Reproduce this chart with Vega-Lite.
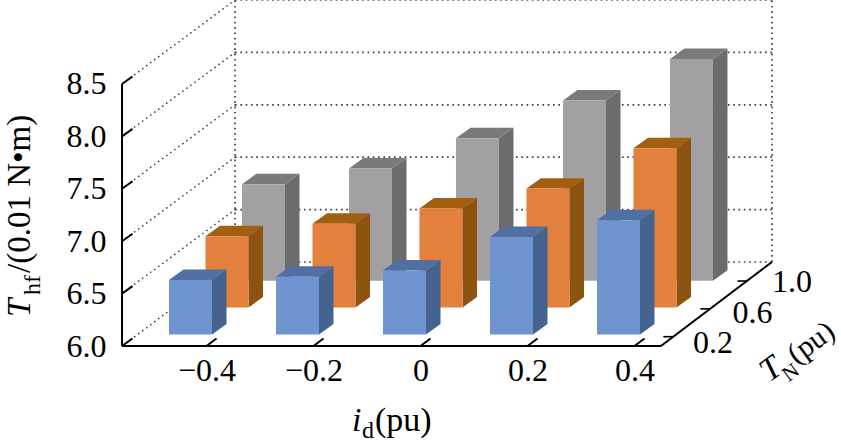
{"$schema":"https://vega.github.io/schema/vega-lite/v6.json","width":719,"height":346,"autosize":{"type":"none"},"padding":{"left":122,"top":0,"right":0,"bottom":96},"background":"white","config":{"view":{"stroke":null},"text":{"font":"Liberation Serif","color":"black"}},
"datasets":{"bars":[{"id":-0.4,"tn":0.2,"t":6.52},{"id":-0.2,"tn":0.2,"t":6.55},{"id":0,"tn":0.2,"t":6.61},{"id":0.2,"tn":0.2,"t":6.93},{"id":0.4,"tn":0.2,"t":7.09},{"id":-0.4,"tn":0.6,"t":6.68},{"id":-0.2,"tn":0.6,"t":6.8},{"id":0,"tn":0.6,"t":6.945},{"id":0.2,"tn":0.6,"t":7.135},{"id":0.4,"tn":0.6,"t":7.52},{"id":-0.4,"tn":1.0,"t":6.92},{"id":-0.2,"tn":1.0,"t":7.07},{"id":0,"tn":1.0,"t":7.36},{"id":0.2,"tn":1.0,"t":7.72},{"id":0.4,"tn":1.0,"t":8.115}],"levels":[{"t":6.0},{"t":6.5},{"t":7.0},{"t":7.5},{"t":8.0},{"t":8.5}],"ids":[{"id":-0.4},{"id":-0.2},{"id":0},{"id":0.2},{"id":0.4}],"depths":[{"tn":0.2,"label":"0.2"},{"tn":0.6,"label":"0.6"},{"tn":1.0,"label":"1.0"}]},
"layer":[
{"data":{"name":"ids"},"mark":{"type":"rule","stroke":"black","strokeWidth":2},"transform":[{"calculate":"datum.id+0.0187","as":"x2"}],"encoding":{"x":{"field":"id","type":"quantitative","scale":{"domain":[-0.55794,0.78598],"nice":false,"zero":false},"axis":{"values":[-0.4,-0.2,0,0.2,0.4],"title":null,"domain":false,"ticks":false,"grid":false,"labelFont":"Liberation Serif","labelFontSize":32,"labelColor":"black","labelPadding":9,"labelExpr":"datum.value==0?'0':format(datum.value,'.1f')","labelFlush":false,"labelOverlap":false}},"x2":{"field":"x2"},"y":{"datum":6,"type":"quantitative","scale":{"domain":[6,9.3015],"nice":false,"zero":false},"axis":{"values":[6,6.5,7,7.5,8,8.5],"format":".1f","title":null,"domain":false,"ticks":false,"grid":false,"labelFont":"Liberation Serif","labelFontSize":32,"labelColor":"black","labelPadding":16,"labelFlush":false,"labelOverlap":false}},"y2":{"datum":6.0716}}},
{"data":{"name":"levels"},"transform":[{"calculate":"datum.t+0.8015","as":"yb"}],"mark":{"type":"rule","stroke":"#444","strokeWidth":1.7,"strokeDash":[1.7,3.6]},"encoding":{"x":{"datum":-0.3467,"type":"quantitative"},"x2":{"datum":0.657},"y":{"field":"yb","type":"quantitative"}}},
{"data":{"name":"levels"},"transform":[{"calculate":"datum.t+0.8015","as":"yb"}],"mark":{"type":"rule","stroke":"#444","strokeWidth":1.5,"strokeDash":[1.6,3.4]},"encoding":{"x":{"datum":-0.5579,"type":"quantitative"},"x2":{"datum":-0.3467},"y":{"field":"t","type":"quantitative"},"y2":{"field":"yb"}}},
{"data":{"values":[{"wall":"back left"}]},"mark":{"type":"rule","stroke":"#444","strokeWidth":1.7,"strokeDash":[1.7,3.6]},"encoding":{"x":{"datum":-0.3467,"type":"quantitative"},"y":{"datum":6.8015,"type":"quantitative"},"y2":{"datum":9.3015}}},
{"data":{"values":[{"wall":"back right"}]},"mark":{"type":"rule","stroke":"#444","strokeWidth":1.7,"strokeDash":[1.7,3.6]},"encoding":{"x":{"datum":0.657,"type":"quantitative"},"y":{"datum":6.8015,"type":"quantitative"},"y2":{"datum":9.3015}}},
{"data":{"name":"levels"},"transform":[{"calculate":"datum.t+0.0716","as":"y2"}],"mark":{"type":"rule","stroke":"black","strokeWidth":2},"encoding":{"x":{"datum":-0.5579,"type":"quantitative"},"x2":{"datum":-0.5383},"y":{"field":"t","type":"quantitative"},"y2":{"field":"y2"}}},
{"data":{"values":[{"axis":"value"}]},"mark":{"type":"rule","stroke":"black","strokeWidth":2},"encoding":{"x":{"datum":-0.5579,"type":"quantitative"},"y":{"datum":6,"type":"quantitative"},"y2":{"datum":8.5}}},
{"data":{"values":[{"axis":"id"}]},"mark":{"type":"rule","stroke":"black","strokeWidth":2},"encoding":{"x":{"datum":-0.5579,"type":"quantitative"},"x2":{"datum":0.4495},"y":{"datum":6,"type":"quantitative"}}},
{"data":{"values":[{"axis":"tn"}]},"mark":{"type":"rule","stroke":"black","strokeWidth":2},"encoding":{"x":{"datum":0.4495,"type":"quantitative"},"x2":{"datum":0.657},"y":{"datum":6,"type":"quantitative"},"y2":{"datum":6.8015}}},
{"data":{"name":"depths"},"transform":[{"calculate":"0.4727+(datum.tn-0.2)/0.4*0.0692","as":"xa"},{"calculate":"datum.xa-0.0187","as":"xb"},{"calculate":"6.0887+(datum.tn-0.2)/0.4*0.2657","as":"ya"}],"mark":{"type":"rule","stroke":"black","strokeWidth":1.6},"encoding":{"x":{"field":"xb","type":"quantitative"},"x2":{"field":"xa"},"y":{"field":"ya","type":"quantitative"}}},
{"data":{"name":"depths"},"transform":[{"calculate":"0.5467+(datum.tn-0.2)/0.4*0.0738","as":"xl"},{"calculate":"6.0286+(datum.tn-0.2)/0.4*0.291","as":"yl"}],"mark":{"type":"text","fontSize":32,"align":"center","baseline":"middle"},"encoding":{"x":{"field":"xl","type":"quantitative"},"y":{"field":"yl","type":"quantitative"},"text":{"field":"label"}}},
{"data":{"name":"bars"},"transform":[{"calculate":"(datum.tn-0.2)/0.4*0.0682","as":"sx"},{"calculate":"(datum.tn-0.2)/0.4*0.2567","as":"sy"},{"calculate":"datum.id-0.0701+datum.sx","as":"xL"},{"calculate":"datum.xL+0.0804","as":"xR"},{"calculate":"6.11+datum.sy","as":"yB"},{"calculate":"datum.t+0.11+datum.sy","as":"yT"},{"calculate":"[0,1]","as":"c"},{"flatten":["c"]},{"calculate":"datum.xR+datum.c*0.0271","as":"sideX"},{"calculate":"datum.yT+datum.c*0.1","as":"sideTop"},{"calculate":"datum.yB+datum.c*0.1","as":"sideBase"},{"calculate":"datum.xL+datum.c*0.0271","as":"topL"},{"calculate":"datum.xR+datum.c*0.0271","as":"topR"}],
"layer":[
{"transform":[{"filter":"datum.tn==1"}],"mark":{"type":"area","orient":"vertical","color":"#6C6B6D"},"encoding":{"x":{"field":"sideX","type":"quantitative"},"y":{"field":"sideTop","type":"quantitative","stack":null},"y2":{"field":"sideBase"},"detail":{"field":"id"}}},
{"transform":[{"filter":"datum.tn==1"}],"mark":{"type":"area","orient":"horizontal","color":"#7A797B"},"encoding":{"y":{"field":"sideTop","type":"quantitative"},"x":{"field":"topL","type":"quantitative","stack":null},"x2":{"field":"topR"},"detail":{"field":"id"}}},
{"transform":[{"filter":"datum.tn==1 && datum.c==0"}],"mark":{"type":"rect","color":"#A2A0A3"},"encoding":{"x":{"field":"xL","type":"quantitative"},"x2":{"field":"xR"},"y":{"field":"yB","type":"quantitative"},"y2":{"field":"yT"}}},
{"transform":[{"filter":"datum.tn==0.6"}],"mark":{"type":"area","orient":"vertical","color":"#8C5410"},"encoding":{"x":{"field":"sideX","type":"quantitative"},"y":{"field":"sideTop","type":"quantitative","stack":null},"y2":{"field":"sideBase"},"detail":{"field":"id"}}},
{"transform":[{"filter":"datum.tn==0.6"}],"mark":{"type":"area","orient":"horizontal","color":"#A35F10"},"encoding":{"y":{"field":"sideTop","type":"quantitative"},"x":{"field":"topL","type":"quantitative","stack":null},"x2":{"field":"topR"},"detail":{"field":"id"}}},
{"transform":[{"filter":"datum.tn==0.6 && datum.c==0"}],"mark":{"type":"rect","color":"#E3803D"},"encoding":{"x":{"field":"xL","type":"quantitative"},"x2":{"field":"xR"},"y":{"field":"yB","type":"quantitative"},"y2":{"field":"yT"}}},
{"transform":[{"filter":"datum.tn==0.2"}],"mark":{"type":"area","orient":"vertical","color":"#44648F"},"encoding":{"x":{"field":"sideX","type":"quantitative"},"y":{"field":"sideTop","type":"quantitative","stack":null},"y2":{"field":"sideBase"},"detail":{"field":"id"}}},
{"transform":[{"filter":"datum.tn==0.2"}],"mark":{"type":"area","orient":"horizontal","color":"#5070A5"},"encoding":{"y":{"field":"sideTop","type":"quantitative"},"x":{"field":"topL","type":"quantitative","stack":null},"x2":{"field":"topR"},"detail":{"field":"id"}}},
{"transform":[{"filter":"datum.tn==0.2 && datum.c==0"}],"mark":{"type":"rect","color":"#7094CF"},"encoding":{"x":{"field":"xL","type":"quantitative"},"x2":{"field":"xR"},"y":{"field":"yB","type":"quantitative"},"y2":{"field":"yT"}}}
]},
{"data":{"values":[{"label":"T"}]},"mark":{"type":"text","fontStyle":"italic","fontSize":33,"angle":270,"align":"left","baseline":"alphabetic"},"encoding":{"x":{"datum":-0.7308,"type":"quantitative"},"y":{"datum":6.2767,"type":"quantitative"},"text":{"field":"label"}}},
{"data":{"values":[{"label":"hf"}]},"mark":{"type":"text","fontSize":24,"angle":270,"align":"left","baseline":"alphabetic"},"encoding":{"x":{"datum":-0.7121,"type":"quantitative"},"y":{"datum":6.4866,"type":"quantitative"},"text":{"field":"label"}}},
{"data":{"values":[{"label":"/(0.01 N•m)"}]},"mark":{"type":"text","fontSize":33,"angle":270,"align":"left","baseline":"alphabetic"},"encoding":{"x":{"datum":-0.7308,"type":"quantitative"},"y":{"datum":6.6966,"type":"quantitative"},"text":{"field":"label"}}},
{"data":{"values":[{"label":"i"}]},"mark":{"type":"text","fontStyle":"italic","fontSize":34,"align":"left","baseline":"alphabetic"},"encoding":{"x":{"datum":-0.128,"type":"quantitative"},"y":{"datum":5.189,"type":"quantitative"},"text":{"field":"label"}}},
{"data":{"values":[{"label":"d"}]},"mark":{"type":"text","fontSize":24,"align":"left","baseline":"alphabetic"},"encoding":{"x":{"datum":-0.1093,"type":"quantitative"},"y":{"datum":5.122,"type":"quantitative"},"text":{"field":"label"}}},
{"data":{"values":[{"label":"(pu)"}]},"mark":{"type":"text","fontSize":34,"align":"left","baseline":"alphabetic"},"encoding":{"x":{"datum":-0.085,"type":"quantitative"},"y":{"datum":5.189,"type":"quantitative"},"text":{"field":"label"}}},
{"data":{"values":[{"label":"T"}]},"mark":{"type":"text","fontStyle":"italic","fontSize":33,"angle":324,"align":"left","baseline":"alphabetic"},"encoding":{"x":{"datum":0.652,"type":"quantitative"},"y":{"datum":5.65,"type":"quantitative"},"text":{"field":"label"}}},
{"data":{"values":[{"label":"N"}]},"mark":{"type":"text","fontSize":21,"angle":324,"align":"left","baseline":"alphabetic"},"encoding":{"x":{"datum":0.688,"type":"quantitative"},"y":{"datum":5.655,"type":"quantitative"},"text":{"field":"label"}}},
{"data":{"values":[{"label":"(pu)"}]},"mark":{"type":"text","fontSize":30,"angle":324,"align":"left","baseline":"alphabetic"},"encoding":{"x":{"datum":0.7025,"type":"quantitative"},"y":{"datum":5.82,"type":"quantitative"},"text":{"field":"label"}}}
]}
